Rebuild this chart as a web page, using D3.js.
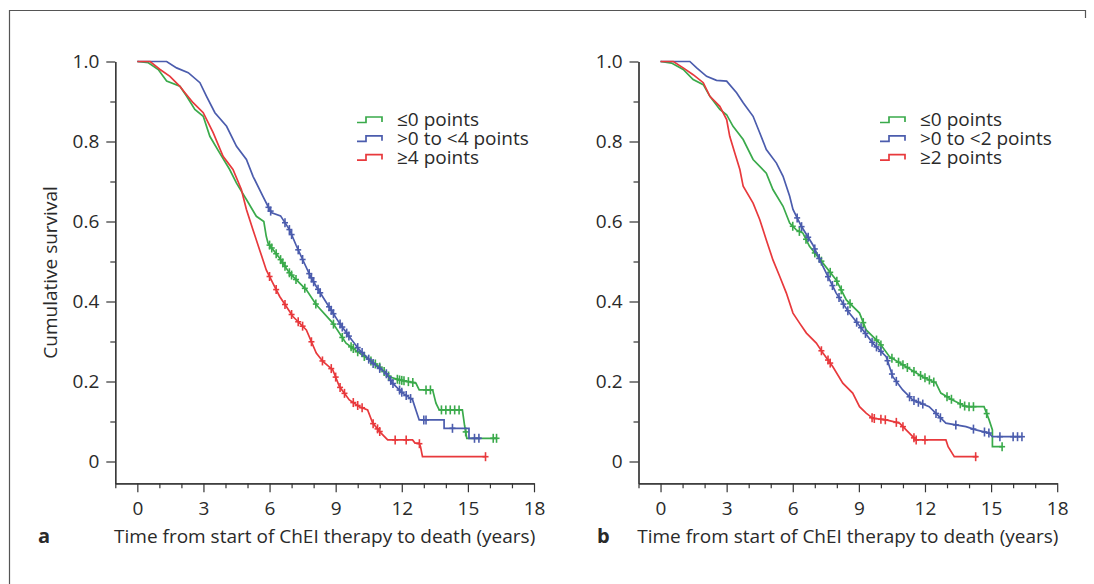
<!DOCTYPE html>
<html lang="en">
<head>
<meta charset="utf-8">
<title>Cumulative survival</title>
<script src="https://cdn.jsdelivr.net/npm/d3@7"></script>
<style>
  body { margin: 0; background: #fff; }
  text { font-family: "Open Sans", "Noto Sans", sans-serif; fill: #2a2a2a; }
  .axis path, .axis line { stroke: #333; stroke-width: 1.2; }
  .axis text { font-size: 19px; fill: #2a2a2a; }
  .title { font-size: 19px; text-anchor: middle; }
  .legend { font-size: 19px; }
  .panel-label { font-size: 20px; font-weight: bold; }
  .km { fill: none; stroke-width: 1.7; stroke-linejoin: miter; }
  .cens { stroke-width: 1.6; }
</style>
</head>
<body>
<div id="chart"></div>
<script>
// ---- data ----
var xMajor = [0, 3, 6, 9, 12, 15, 18];
var xMinor = [-1, 1, 2, 4, 5, 7, 8, 10, 11, 13, 14, 16, 17];
var yMajor = [0, 0.2, 0.4, 0.6, 0.8, 1.0];
var yMinor = [0.1, 0.3, 0.5, 0.7, 0.9];
var colors = ["#3aaa4b", "#4b5cad", "#e8393c"];
var legendA = ["\u22640 points", ">0 to <4 points", "\u22654 points"];
var legendB = ["\u22640 points", ">0 to <2 points", "\u22652 points"];

// panel a
var aGreenT = [0, 0.5, 0.95, 1.33, 1.93, 2.24, 2.61, 2.99, 3.29, 3.74, 4.19, 4.5, 4.95, 5.4, 5.74, 5.85, 5.93, 6.46, 6.91, 7.67, 8.12, 8.87, 9.47, 10.08, 10.98, 11.43, 11.89, 12.64, 12.79, 13.4, 13.55, 13.7, 14.75, 14.85, 14.95, 16.33];
var aGreenS = [1, 0.997, 0.98, 0.951, 0.938, 0.913, 0.88, 0.863, 0.813, 0.771, 0.73, 0.696, 0.655, 0.613, 0.6, 0.563, 0.546, 0.508, 0.471, 0.429, 0.392, 0.346, 0.296, 0.271, 0.237, 0.212, 0.204, 0.196, 0.179, 0.179, 0.146, 0.129, 0.129, 0.09, 0.058, 0.058];
var aBlueT = [0, 1.33, 1.78, 2.31, 2.84, 3.14, 3.52, 4.05, 4.5, 4.95, 5.25, 5.7, 6.0, 6.1, 6.5, 6.91, 7.21, 7.5, 7.84, 8.12, 8.64, 9.17, 9.62, 10.08, 10.68, 11.28, 11.58, 12.04, 12.49, 12.64, 12.79, 13.92, 13.92, 15.05, 15.05, 15.58];
var aBlueS = [1, 1, 0.984, 0.972, 0.947, 0.913, 0.872, 0.838, 0.788, 0.755, 0.713, 0.663, 0.63, 0.622, 0.614, 0.579, 0.54, 0.505, 0.465, 0.4375, 0.392, 0.346, 0.312, 0.279, 0.246, 0.221, 0.196, 0.171, 0.154, 0.129, 0.104, 0.104, 0.083, 0.083, 0.058, 0.058];
var aRedT = [0, 0.58, 1.03, 1.48, 1.93, 2.16, 2.53, 2.99, 3.44, 3.89, 4.34, 4.72, 4.95, 5.25, 5.55, 5.85, 6.15, 6.46, 7.06, 7.67, 8.12, 8.42, 8.87, 9.17, 9.62, 10.08, 10.45, 10.68, 11.06, 11.36, 12.49, 12.6, 12.79, 12.85, 12.94, 15.81];
var aRedS = [1, 1, 0.98, 0.963, 0.938, 0.922, 0.897, 0.872, 0.822, 0.763, 0.73, 0.68, 0.63, 0.579, 0.529, 0.479, 0.446, 0.4125, 0.3625, 0.329, 0.271, 0.25, 0.229, 0.1875, 0.154, 0.137, 0.129, 0.096, 0.071, 0.054, 0.054, 0.046, 0.046, 0.037, 0.012, 0.012];
var aGreenCens = [6.0, 6.1, 6.3, 6.5, 6.6, 6.7, 6.9, 7.0, 7.2, 7.6, 8.1, 8.9, 9.3, 9.7, 9.8, 10.0, 10.3, 10.6, 10.8, 11.0, 11.2, 11.4, 11.8, 11.9, 12.0, 12.1, 12.3, 12.5, 13.1, 13.3, 13.8, 14.0, 14.2, 14.4, 14.6, 14.9, 16.15, 16.3];
var aBlueCens = [5.95, 6.05, 6.7, 6.9, 7.0, 7.3, 7.5, 7.8, 7.9, 8.0, 8.2, 8.3, 8.7, 8.8, 8.9, 9.2, 9.3, 9.5, 9.6, 10.0, 10.2, 10.5, 10.7, 11.0, 11.3, 11.5, 11.6, 11.9, 12.0, 12.2, 12.4, 13.0, 13.1, 14.3, 15.3, 15.5];
var aRedCens = [6.0, 6.3, 6.7, 7.0, 7.3, 7.5, 7.9, 8.4, 8.8, 9.0, 9.2, 9.4, 9.8, 10.0, 10.2, 10.7, 10.9, 11.0, 11.7, 12.2, 12.8, 15.8];

// panel b
var bGreenT = [0, 0.5, 1.03, 1.48, 1.94, 2.24, 2.69, 3.0, 3.29, 3.75, 4.2, 4.8, 5.1, 5.56, 5.86, 6.16, 6.46, 6.76, 7.37, 7.97, 8.43, 9.03, 9.33, 9.94, 10.39, 11.14, 11.89, 12.5, 12.72, 13.25, 13.86, 14.68, 14.91, 15.06, 15.06, 15.51];
var bGreenS = [1, 0.996, 0.98, 0.955, 0.942, 0.913, 0.88, 0.867, 0.838, 0.805, 0.755, 0.721, 0.68, 0.638, 0.596, 0.579, 0.571, 0.538, 0.496, 0.454, 0.404, 0.371, 0.329, 0.296, 0.262, 0.237, 0.212, 0.196, 0.171, 0.154, 0.137, 0.137, 0.104, 0.079, 0.037, 0.037];
var bBlueT = [0, 1.33, 1.64, 2.09, 2.54, 3.0, 3.45, 3.75, 4.2, 4.5, 4.8, 5.26, 5.56, 5.86, 6.01, 6.39, 6.91, 7.37, 7.97, 8.57, 9.18, 9.63, 10.24, 10.54, 10.99, 11.44, 12.19, 12.65, 12.95, 13.86, 14.31, 14.91, 15.06, 16.34];
var bBlueS = [1, 1, 0.984, 0.963, 0.953, 0.951, 0.922, 0.897, 0.863, 0.822, 0.78, 0.746, 0.713, 0.663, 0.63, 0.588, 0.542, 0.4875, 0.421, 0.371, 0.329, 0.296, 0.262, 0.212, 0.179, 0.154, 0.137, 0.112, 0.096, 0.087, 0.079, 0.071, 0.062, 0.062];
var bRedT = [0, 0.58, 1.03, 1.48, 1.94, 2.24, 2.69, 3.0, 3.14, 3.37, 3.6, 3.75, 4.2, 4.5, 4.8, 5.1, 5.41, 5.71, 6.01, 6.31, 6.62, 7.07, 7.37, 7.82, 8.27, 8.72, 9.03, 9.33, 9.63, 10.24, 10.84, 11.29, 11.59, 12.95, 13.05, 13.33, 14.38];
var bRedS = [1, 1, 0.984, 0.967, 0.947, 0.913, 0.888, 0.855, 0.813, 0.771, 0.73, 0.688, 0.646, 0.605, 0.554, 0.504, 0.4625, 0.421, 0.371, 0.346, 0.321, 0.296, 0.271, 0.237, 0.196, 0.171, 0.137, 0.121, 0.108, 0.104, 0.096, 0.071, 0.054, 0.054, 0.037, 0.012, 0.012];
var bGreenCens = [6.0, 6.3, 6.6, 7.0, 7.3, 7.7, 8.0, 8.2, 8.6, 9.2, 9.8, 10.0, 10.5, 10.8, 11.0, 11.2, 11.5, 11.8, 12.0, 12.2, 12.4, 13.0, 13.2, 13.6, 13.8, 14.0, 14.2, 14.8, 15.5];
var bBlueCens = [6.2, 6.4, 6.7, 7.0, 7.2, 7.6, 7.8, 8.1, 8.3, 8.5, 8.9, 9.1, 9.3, 9.6, 9.8, 10.0, 10.3, 10.5, 10.7, 11.3, 11.5, 11.7, 11.9, 12.5, 12.7, 13.4, 14.2, 14.7, 14.9, 15.4, 16.0, 16.2, 16.4];
var bRedCens = [7.3, 7.6, 7.7, 9.6, 9.7, 10.0, 10.2, 10.7, 11.0, 11.5, 11.6, 12.0, 14.3];

// ---- layout ----
var W = 1094, H = 584;
var axisTop = 61.5, yZero = 461.5, axisBottom = 483.3, plotW = 418.7;

var svg = d3.select("#chart").append("svg")
  .attr("width", W).attr("height", H);

// frame
svg.append("path")
  .attr("d", "M9.5,584 V10.5 H1085.5 V18")
  .attr("fill", "none").attr("stroke", "#555").attr("stroke-width", 1.2);

var yScale = d3.scaleLinear()
  .domain([-(axisBottom - yZero) / (yZero - axisTop), 1])
  .range([axisBottom, axisTop]);

function fmtY(d) { return d === 0 ? "0" : d3.format(".1f")(d); }

function valueAt(ts, ss, t) {
  // survival of the drawn polyline at time t
  for (var i = 1; i < ts.length; i++) {
    if (t <= ts[i]) {
      if (ts[i] === ts[i - 1]) return ss[i];
      var f = (t - ts[i - 1]) / (ts[i] - ts[i - 1]);
      return ss[i - 1] + f * (ss[i] - ss[i - 1]);
    }
  }
  return ss[ss.length - 1];
}

function drawPanel(opt) {
  var x = d3.scaleLinear().domain([-1, 18]).range([opt.x0, opt.x0 + plotW]);
  var g = svg.append("g");

  // y axis
  g.append("g").attr("class", "axis")
    .attr("transform", "translate(" + opt.x0 + ",0)")
    .call(d3.axisLeft(yScale).tickValues(yMajor).tickSize(9).tickSizeOuter(0).tickPadding(7).tickFormat(fmtY));
  g.append("g").attr("class", "axis")
    .attr("transform", "translate(" + opt.x0 + ",0)")
    .call(d3.axisLeft(yScale).tickValues(yMinor).tickSize(5).tickSizeOuter(0).tickFormat(""));

  // x axis
  g.append("g").attr("class", "axis")
    .attr("transform", "translate(0," + axisBottom + ")")
    .call(d3.axisBottom(x).tickValues(xMajor).tickSize(9).tickSizeOuter(0).tickPadding(9).tickFormat(d3.format("d")));
  g.append("g").attr("class", "axis")
    .attr("transform", "translate(0," + axisBottom + ")")
    .call(d3.axisBottom(x).tickValues(xMinor).tickSize(5).tickSizeOuter(0).tickFormat(""));

  g.selectAll(".axis text").attr("fill", "#2a2a2a");

  // x title
  g.append("text").attr("class", "title")
    .attr("x", opt.x0 + plotW / 2).attr("y", 543)
    .text("Time from start of ChEI therapy to death (years)");

  g.append("text").attr("class", "panel-label")
    .attr("x", opt.labelX).attr("y", 543)
    .text(opt.label);

  var line = d3.line()
    .x(function(d) { return x(d[0]); })
    .y(function(d) { return yScale(d[1]); });

  opt.series.forEach(function(s, i) {
    var pts = d3.zip(s.t, s.s);
    g.append("path").attr("class", "km")
      .attr("d", line(pts))
      .attr("stroke", colors[i]);

    var marks = g.append("g").attr("class", "cens").attr("stroke", colors[i]);
    s.cens.forEach(function(c) {
      var cx = x(c), cy = yScale(valueAt(s.t, s.s, c));
      marks.append("line").attr("x1", cx).attr("x2", cx).attr("y1", cy - 4.5).attr("y2", cy + 4.5);
      marks.append("line").attr("x1", cx - 3).attr("x2", cx + 3).attr("y1", cy).attr("y2", cy);
    });
  });

  // legend
  var lg = svg.append("g").attr("transform", "translate(" + opt.legX + ",126)");
  opt.legend.forEach(function(name, i) {
    var row = lg.append("g").attr("transform", "translate(0," + (i * 18.8) + ")");
    row.append("path")
      .attr("d", "M-40,-3.5 H-31 V-9 H-15 V-4")
      .attr("fill", "none").attr("stroke", colors[i]).attr("stroke-width", 1.7);
    row.append("text").attr("class", "legend").attr("x", 0).attr("y", 0).text(name);
  });
}

drawPanel({
  x0: 115.3, label: "a", labelX: 38, legX: 397, legend: legendA,
  series: [
    {t: aGreenT, s: aGreenS, cens: aGreenCens},
    {t: aBlueT, s: aBlueS, cens: aBlueCens},
    {t: aRedT, s: aRedS, cens: aRedCens}
  ]
});

drawPanel({
  x0: 638.5, label: "b", labelX: 597, legX: 920, legend: legendB,
  series: [
    {t: bGreenT, s: bGreenS, cens: bGreenCens},
    {t: bBlueT, s: bBlueS, cens: bBlueCens},
    {t: bRedT, s: bRedS, cens: bRedCens}
  ]
});

// y title (panel a only)
svg.append("text").attr("class", "title")
  .attr("transform", "translate(57,272.5) rotate(-90)")
  .text("Cumulative survival");
</script>
</body>
</html>
